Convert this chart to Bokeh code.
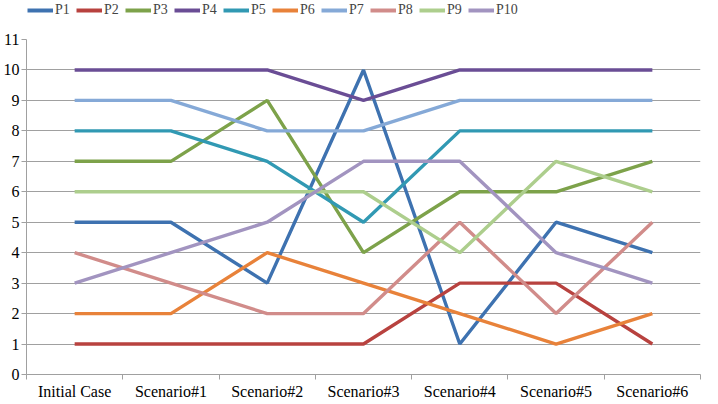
from bokeh.plotting import figure
from bokeh.layouts import column
from bokeh.models import FixedTicker, Legend, LegendItem, Range1d
from bokeh.embed import file_html
from bokeh.resources import INLINE

categories = ["Initial Case", "Scenario#1", "Scenario#2", "Scenario#3",
              "Scenario#4", "Scenario#5", "Scenario#6"]
P1 = [5, 5, 3, 10, 1, 5, 4]
P2 = [1, 1, 1, 1, 3, 3, 1]
P3 = [7, 7, 9, 4, 6, 6, 7]
P4 = [10, 10, 10, 9, 10, 10, 10]
P5 = [8, 8, 7, 5, 8, 8, 8]
P6 = [2, 2, 4, 3, 2, 1, 2]
P7 = [9, 9, 8, 8, 9, 9, 9]
P8 = [4, 3, 2, 2, 5, 2, 5]
P9 = [6, 6, 6, 6, 4, 7, 6]
P10 = [3, 4, 5, 7, 7, 4, 3]
y_ticks = list(range(0, 12))

series = [("P1", P1), ("P2", P2), ("P3", P3), ("P4", P4), ("P5", P5),
          ("P6", P6), ("P7", P7), ("P8", P8), ("P9", P9), ("P10", P10)]
colors = ["#3E72B0", "#B8423F", "#7DA24A", "#6A4D95", "#3199B3",
          "#E8823A", "#85A9D7", "#D18C8A", "#ADCE8D", "#A294C0"]

FONT = "Liberation Serif, Times New Roman, serif"
xs = [i + 0.5 for i in range(len(categories))]
W = 702

# main plot
p = figure(width=W, height=380, output_backend="svg", toolbar_location=None,
           x_range=Range1d(0, len(categories)), y_range=Range1d(0, 11),
           min_border_left=19, min_border_right=2, min_border_bottom=22,
           min_border_top=17)
p.outline_line_color = None

for (name, vals), c in zip(series, colors):
    p.line(xs, vals, line_color=c, line_width=3.4)

xa = p.xaxis[0]
xa.ticker = FixedTicker(ticks=xs, minor_ticks=list(range(len(categories) + 1)))
xa.major_label_overrides = {x: c for x, c in zip(xs, categories)}
xa.major_tick_line_color = None
xa.minor_tick_line_color = "#A0A0A0"
xa.minor_tick_out = 5
xa.minor_tick_in = 0
xa.axis_line_color = "#A0A0A0"
xa.major_label_text_font = FONT
xa.major_label_text_font_size = "16px"
xa.major_label_text_color = "#000000"
xa.major_label_standoff = 2

ya = p.yaxis[0]
ya.ticker = FixedTicker(ticks=y_ticks)
ya.minor_tick_line_color = None
ya.major_tick_line_color = "#A0A0A0"
ya.major_tick_out = 5
ya.major_tick_in = 0
ya.axis_line_color = "#A0A0A0"
ya.major_label_text_font = FONT
ya.major_label_text_font_size = "16px"
ya.major_label_text_color = "#000000"
ya.major_label_standoff = 2

p.xgrid.grid_line_color = None
p.ygrid.grid_line_color = "#A0A0A0"
p.ygrid.grid_line_width = 1
p.ygrid.ticker = FixedTicker(ticks=y_ticks)

# legend strip (series drawn outside its visible range; only the legend shows)
lg = figure(width=W, height=22, output_backend="svg", toolbar_location=None,
            x_range=Range1d(100, 101), y_range=Range1d(100, 101),
            min_border=0)
lg.outline_line_color = None
lg.axis.visible = False
lg.grid.visible = False
items = []
for (name, vals), c in zip(series, colors):
    r = lg.line(xs, vals, line_color=c, line_width=4)
    items.append(LegendItem(label=name, renderers=[r]))
legend = Legend(items=items, orientation="horizontal", location=(1, 4),
                margin=0, padding=0, spacing=1, glyph_width=26, glyph_height=14,
                label_standoff=2, label_text_font=FONT,
                label_text_font_size="14px", border_line_color=None,
                background_fill_alpha=0, label_height=14)
lg.add_layout(legend, "center")

layout = column(lg, p, spacing=0)
open("out.html", "w").write(file_html(layout, INLINE))
